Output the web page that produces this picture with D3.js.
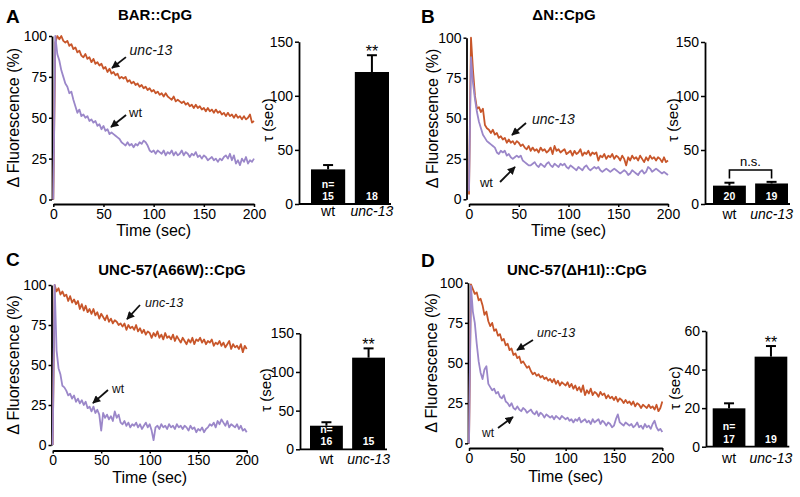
<!DOCTYPE html>
<html><head><meta charset="utf-8">
<script src="https://cdn.jsdelivr.net/npm/d3@7"></script>
<style>
html,body{margin:0;padding:0;background:#fff;}
svg{display:block;font-family:"Liberation Sans",Arial,Helvetica,sans-serif;}
</style></head><body>
<svg id="chart" width="800" height="497"></svg>
<script>
// ---------------- DATA ----------------
const timeTicks = [0, 50, 100, 150, 200];
const fluorTicks = [0, 25, 50, 75, 100];
const panelTitles = ["BAR::CpG", "ΔN::CpG", "UNC-57(A66W)::CpG", "UNC-57(ΔH1I)::CpG"];
const panelLetters = ["A", "B", "C", "D"];

// traces sampled every 2 s from 0 to 200 s (Δ Fluorescence, %)
const A_unc = [0,96,100,98,100,97,96,97,94,95,92,93,90,91,88,87,89,86,87,84,86,83,84,82,83,80,81,78,80,77,78,76,77,74,75,74,75,72,73,71,72,70,71,69,70,68,69,67,68,66,67,65,66,64,65,63,65,63,62,61,63,60,61,60,59,60,58,59,57,58,56,58,56,57,55,56,54,56,54,55,53,55,53,54,52,53,51,53,51,52,50,52,50,51,49,51,49,50,52,47,48];
const A_wt  = [0,100,89,85,79,75,71,69,65,66,61,57,53,55,51,52,50,51,48,49,47,48,45,46,43,45,42,43,40,41,40,39,38,37,35,34,33,35,33,34,32,34,33,35,34,36,35,33,30,29,30,28,30,29,28,30,27,29,28,30,27,29,27,28,30,27,29,28,26,28,27,29,26,27,25,27,26,24,25,26,24,25,23,25,24,26,27,25,28,24,27,22,24,21,25,23,26,22,24,23,25];
const B_unc = [3,100,80,64,56,57,54,56,46,44,43,41,43,40,41,38,39,37,38,35,37,35,36,34,36,35,33,34,32,31,33,30,32,30,31,29,32,30,31,29,30,32,28,33,30,31,29,30,31,28,29,30,27,30,28,29,31,27,29,28,30,27,29,28,29,24,27,26,28,25,27,26,28,25,27,26,24,27,25,21,26,24,27,25,26,24,27,25,23,26,24,27,25,26,24,26,25,23,26,23,24];
const B_wt  = [5,88,72,62,54,48,44,40,38,36,35,34,33,32,29,28,30,29,30,27,28,26,25,26,27,26,27,24,23,22,21,21,22,23,21,20,22,21,20,22,23,21,20,22,21,20,22,21,22,20,19,21,20,19,18,20,19,18,20,21,19,18,19,20,19,20,18,17,18,19,18,17,18,19,18,17,16,17,18,17,15,16,18,17,16,15,17,18,16,17,20,19,17,18,19,18,17,16,17,16,15];
const C_unc = [0,100,96,98,94,96,93,94,90,93,89,91,88,90,85,88,84,87,83,85,82,85,81,83,79,82,80,78,81,77,79,76,78,77,75,76,74,76,72,75,73,74,72,75,71,73,70,72,69,71,70,67,70,68,71,67,69,66,70,67,68,66,69,65,68,66,64,67,65,63,66,64,67,63,66,65,67,64,66,63,65,64,66,62,64,63,65,62,64,61,63,65,60,63,61,62,60,63,58,62,60];
const C_wt  = [0,100,59,48,44,37,36,34,31,32,29,31,27,29,26,28,25,27,23,24,21,24,20,22,19,9,20,17,19,16,18,15,21,17,19,14,13,15,12,14,11,13,12,14,11,13,10,12,14,11,13,9,3,11,12,10,13,11,12,10,13,11,12,10,13,11,12,10,12,11,9,12,10,11,8,10,9,11,8,10,11,13,12,14,11,15,13,16,14,12,15,11,13,12,11,13,10,12,9,10,8];
const D_unc = [0,99,96,93,94,89,90,86,80,82,76,73,75,70,71,67,68,64,65,61,62,58,59,55,56,53,54,50,51,49,47,48,45,43,44,42,43,41,42,40,41,39,40,38,40,37,39,36,38,37,36,38,35,37,34,36,33,35,32,36,30,33,31,34,30,32,31,29,32,30,31,28,30,28,29,27,29,26,28,27,25,27,25,26,24,26,23,25,24,22,24,23,22,24,22,23,21,24,20,22,26];
const D_wt  = [0,98,82,75,62,51,44,40,46,48,37,35,33,34,31,32,29,28,30,26,25,23,25,22,21,23,21,20,22,21,19,20,21,19,18,20,17,19,18,16,18,17,16,17,15,17,16,15,17,16,15,16,14,15,13,15,14,16,13,14,15,13,14,12,15,13,14,15,12,14,13,11,13,12,10,11,15,18,13,12,11,13,12,11,12,10,11,13,10,11,9,12,10,11,9,12,14,10,8,9,7];

// bar charts: τ (sec), mean and s.e.m.
const barCategories = ["wt", "unc-13"];
const tauTicks = [0, 50, 100, 150];
const tauTicksD = [0, 20, 40, 60];
const A_tau = [32, 122],   A_err = [4, 15.5];
const B_tau = [17, 19],    B_err = [2.7, 1.5];
const C_tau = [30.5, 118.5], C_err = [4.5, 12];
const D_tau = [19.9, 46.7], D_err = [2.6, 5.5];
const A_n = [["n=", "15"], ["18"]];
const B_n = [["20"], ["19"]];
const C_n = [["n=", "16"], ["15"]];
const D_n = [["n=", "17"], ["19"]];
const A_sig = "**", B_sig = "n.s.", C_sig = "**", D_sig = "**";

// annotation anchor points in data units [t, value]
const A_ann = {unc: {text: [76, 88.4], from: [72.4, 87.1], to: [58.5, 80.4]}, wt: {text: [75.5, 50.5], from: [72.5, 51.7], to: [57.5, 44.3]}};
const B_ann = {unc: {text: [63.3, 46.6], from: [57.3, 47.2], to: [43.2, 39.8]}, wt: {text: [11, 7.6], from: [31.2, 10.7], to: [46.2, 20]}};
const C_ann = {unc: {text: [95.2, 86.2], from: [90, 87.5], to: [76.6, 78.7]}, wt: {text: [61.2, 32.5], from: [57, 34.4], to: [41.5, 26.2]}};
const D_ann = {unc: {text: [70.4, 66.3], from: [66.2, 64.3], to: [49.7, 58.1]}, wt: {text: [13.5, 3.9], from: [30, 9.5], to: [45.5, 16.4]}};

// ---------------- DRAWING ----------------
const ORANGE = "#c8562a", PURPLE = "#9b87c9";
const svg = d3.select("#chart");
const defs = svg.append("defs");
defs.append("marker").attr("id", "ah").attr("viewBox", "0 0 10 10")
  .attr("refX", 9).attr("refY", 5).attr("markerWidth", 9).attr("markerHeight", 8)
  .attr("markerUnits", "userSpaceOnUse").attr("orient", "auto")
  .append("path").attr("d", "M0,0 L10,5 L0,10 z").attr("fill", "#111");

function styleAxis(g, fs) {
  g.select(".domain").attr("stroke", "#000").attr("stroke-width", 1.8);
  g.selectAll(".tick line").attr("stroke", "#000").attr("stroke-width", 1.5);
  g.selectAll(".tick text").attr("fill", "#000").style("font-size", fs + "px")
    .style("font-family", '"Liberation Sans",Arial,sans-serif');
}

function linePanel(L, wt, unc, ann, letter, title) {
  const x = d3.scaleLinear().domain([0, 200]).range([L.x0, L.x1]);
  const y = d3.scaleLinear().domain([0, 100]).range([L.y0, L.y1]);
  const ya = svg.append("g").attr("transform", `translate(${L.yAxisX},0)`)
    .call(d3.axisLeft(y).tickValues(fluorTicks).tickSize(3).tickPadding(2).tickSizeOuter(0));
  styleAxis(ya, 14);
  const xa = svg.append("g").attr("transform", `translate(0,${L.xAxisY})`)
    .call(d3.axisBottom(x).tickValues(timeTicks).tickSize(3).tickPadding(2).tickSizeOuter(0));
  styleAxis(xa, 14);

  const mk = s => d3.line().x((d, i) => x(i * 200 / (s.length - 1))).y(d => y(d))(s);
  svg.append("path").attr("d", mk(unc)).attr("fill", "none").attr("stroke", ORANGE)
    .attr("stroke-width", 1.8).attr("stroke-linejoin", "round");
  svg.append("path").attr("d", mk(wt)).attr("fill", "none").attr("stroke", PURPLE)
    .attr("stroke-width", 1.8).attr("stroke-linejoin", "round");

  // annotations
  [["unc", "unc-13", "italic", L.uncFs], ["wt", "wt", "normal", L.wtFs]].forEach(([k, txt, st, fs]) => {
    const a = ann[k];
    svg.append("line").attr("x1", x(a.from[0])).attr("y1", y(a.from[1]))
      .attr("x2", x(a.to[0])).attr("y2", y(a.to[1]))
      .attr("stroke", "#111").attr("stroke-width", 1.8).attr("marker-end", "url(#ah)");
    svg.append("text").attr("x", x(a.text[0])).attr("y", y(a.text[1]))
      .style("font-size", fs + "px").style("font-style", st).attr("fill", "#111").text(txt);
  });

  // labels
  svg.append("text").attr("transform", `translate(${L.yLabX},${(L.y0 + L.y1) / 2}) rotate(-90)`)
    .attr("text-anchor", "middle").style("font-size", "16px").text("Δ Fluorescence (%)");
  svg.append("text").attr("x", (L.x0 + L.x1) / 2).attr("y", L.xLabY)
    .attr("text-anchor", "middle").style("font-size", "16px").text("Time (sec)");
  svg.append("text").attr("x", L.letterX).attr("y", L.letterY)
    .style("font-size", "19px").style("font-weight", "bold").text(letter);
  svg.append("text").attr("x", L.titleX).attr("y", L.titleY).attr("text-anchor", "middle")
    .style("font-size", "15px").style("font-weight", "bold").text(title);
}

function barPanel(B, ticks, max, vals, errs, nLab, sig) {
  const y = d3.scaleLinear().domain([0, max]).range([B.y0, B.yTop]);
  const xb = d3.scaleBand().domain(barCategories).range([B.b0, B.b1]).paddingInner(0.22);
  const ya = svg.append("g").attr("transform", `translate(${B.axisX},0)`)
    .call(d3.axisLeft(y).tickValues(ticks).tickSize(4).tickPadding(2).tickSizeOuter(0));
  styleAxis(ya, 14);
  svg.append("line").attr("x1", B.axisX).attr("x2", B.b1 + 2).attr("y1", y(0)).attr("y2", y(0))
    .attr("stroke", "#000").attr("stroke-width", 1.8);

  barCategories.forEach((c, i) => {
    const bx = xb(c), bw = xb.bandwidth(), cx = bx + bw / 2;
    // error bar (upper)
    svg.append("line").attr("x1", cx).attr("x2", cx).attr("y1", y(vals[i])).attr("y2", y(vals[i] + errs[i]))
      .attr("stroke", "#000").attr("stroke-width", 2);
    svg.append("line").attr("x1", cx - 5).attr("x2", cx + 5).attr("y1", y(vals[i] + errs[i])).attr("y2", y(vals[i] + errs[i]))
      .attr("stroke", "#000").attr("stroke-width", 2);
    svg.append("rect").attr("x", bx).attr("y", y(vals[i])).attr("width", bw)
      .attr("height", y(0) - y(vals[i])).attr("fill", "#000");
    // n labels inside the bar (stacked lines)
    const lines = nLab[i];
    lines.forEach((s, j) => {
      svg.append("text").attr("x", cx).attr("y", y(0) - 4 - (lines.length - 1 - j) * 12.5)
        .attr("text-anchor", "middle").attr("fill", "#fff")
        .style("font-size", "10.5px").style("font-weight", "bold").text(s);
    });
    // category label
    svg.append("text").attr("x", cx).attr("y", y(0) + B.catOff).attr("text-anchor", "middle")
      .style("font-size", "14px").style("font-style", i === 1 ? "italic" : "normal").text(c);
  });

  if (sig === "**") {
    const cx = xb(barCategories[1]) + xb.bandwidth() / 2;
    svg.append("text").attr("x", cx).attr("y", y(vals[1] + errs[1]) + 2).attr("text-anchor", "middle")
      .style("font-size", "16px").text(sig);
  } else {
    const c0 = xb(barCategories[0]) + xb.bandwidth() / 2, c1 = xb(barCategories[1]) + xb.bandwidth() / 2;
    const top = y(B.brTop), leg = y(B.brLeg);
    svg.append("path").attr("d", `M${c0},${leg}V${top}H${c1}V${leg}`).attr("fill", "none")
      .attr("stroke", "#000").attr("stroke-width", 1.6);
    svg.append("text").attr("x", (c0 + c1) / 2).attr("y", top - 4).attr("text-anchor", "middle")
      .style("font-size", "13px").text(sig);
  }

  svg.append("text").attr("transform", `translate(${B.labX},${B.labY}) rotate(-90)`)
    .attr("text-anchor", "middle").style("font-size", "15px").text("τ (sec)");
}

// layouts (pixel positions)
linePanel({x0: 53.3, x1: 254, y0: 199.5, y1: 36, yAxisX: 52, xAxisY: 204, yLabX: 19, xLabY: 236,
  letterX: 6, letterY: 23, titleX: 155, titleY: 20, uncFs: 14, wtFs: 13}, A_wt, A_unc, A_ann, panelLetters[0], panelTitles[0]);
linePanel({x0: 469, x1: 668, y0: 199.3, y1: 37.7, yAxisX: 466.5, xAxisY: 204, yLabX: 438, xLabY: 236,
  letterX: 421, letterY: 23, titleX: 564, titleY: 20, uncFs: 14, wtFs: 13}, B_wt, B_unc, B_ann, panelLetters[1], panelTitles[1]);
linePanel({x0: 52.7, x1: 246.7, y0: 445, y1: 285, yAxisX: 51.5, xAxisY: 450.5, yLabX: 19, xLabY: 483,
  letterX: 6, letterY: 266, titleX: 172, titleY: 275, uncFs: 12.5, wtFs: 12}, C_wt, C_unc, C_ann, panelLetters[2], panelTitles[2]);
linePanel({x0: 469, x1: 662.3, y0: 443.3, y1: 282.7, yAxisX: 468, xAxisY: 448, yLabX: 437, xLabY: 482,
  letterX: 421, letterY: 267, titleX: 577, titleY: 275, uncFs: 12.5, wtFs: 12}, D_wt, D_unc, D_ann, panelLetters[3], panelTitles[3]);

barPanel({axisX: 299, y0: 204, yTop: 41.7, b0: 311, b1: 389, catOff: 12, labX: 273, labY: 120},
  tauTicks, 150, A_tau, A_err, A_n, A_sig);
barPanel({axisX: 705, y0: 204, yTop: 42, b0: 713, b1: 788, catOff: 15, labX: 678, labY: 120, brTop: 31.5, brLeg: 23.5},
  tauTicks, 150, B_tau, B_err, B_n, B_sig);
barPanel({axisX: 300, y0: 449.3, yTop: 333.3, b0: 310, b1: 385, catOff: 15, labX: 271, labY: 390},
  tauTicks, 150, C_tau, C_err, C_n, C_sig);
barPanel({axisX: 706, y0: 446.7, yTop: 331, b0: 712.7, b1: 787.3, catOff: 16, labX: 680, labY: 388},
  tauTicksD, 60, D_tau, D_err, D_n, D_sig);
</script>
</body></html>
